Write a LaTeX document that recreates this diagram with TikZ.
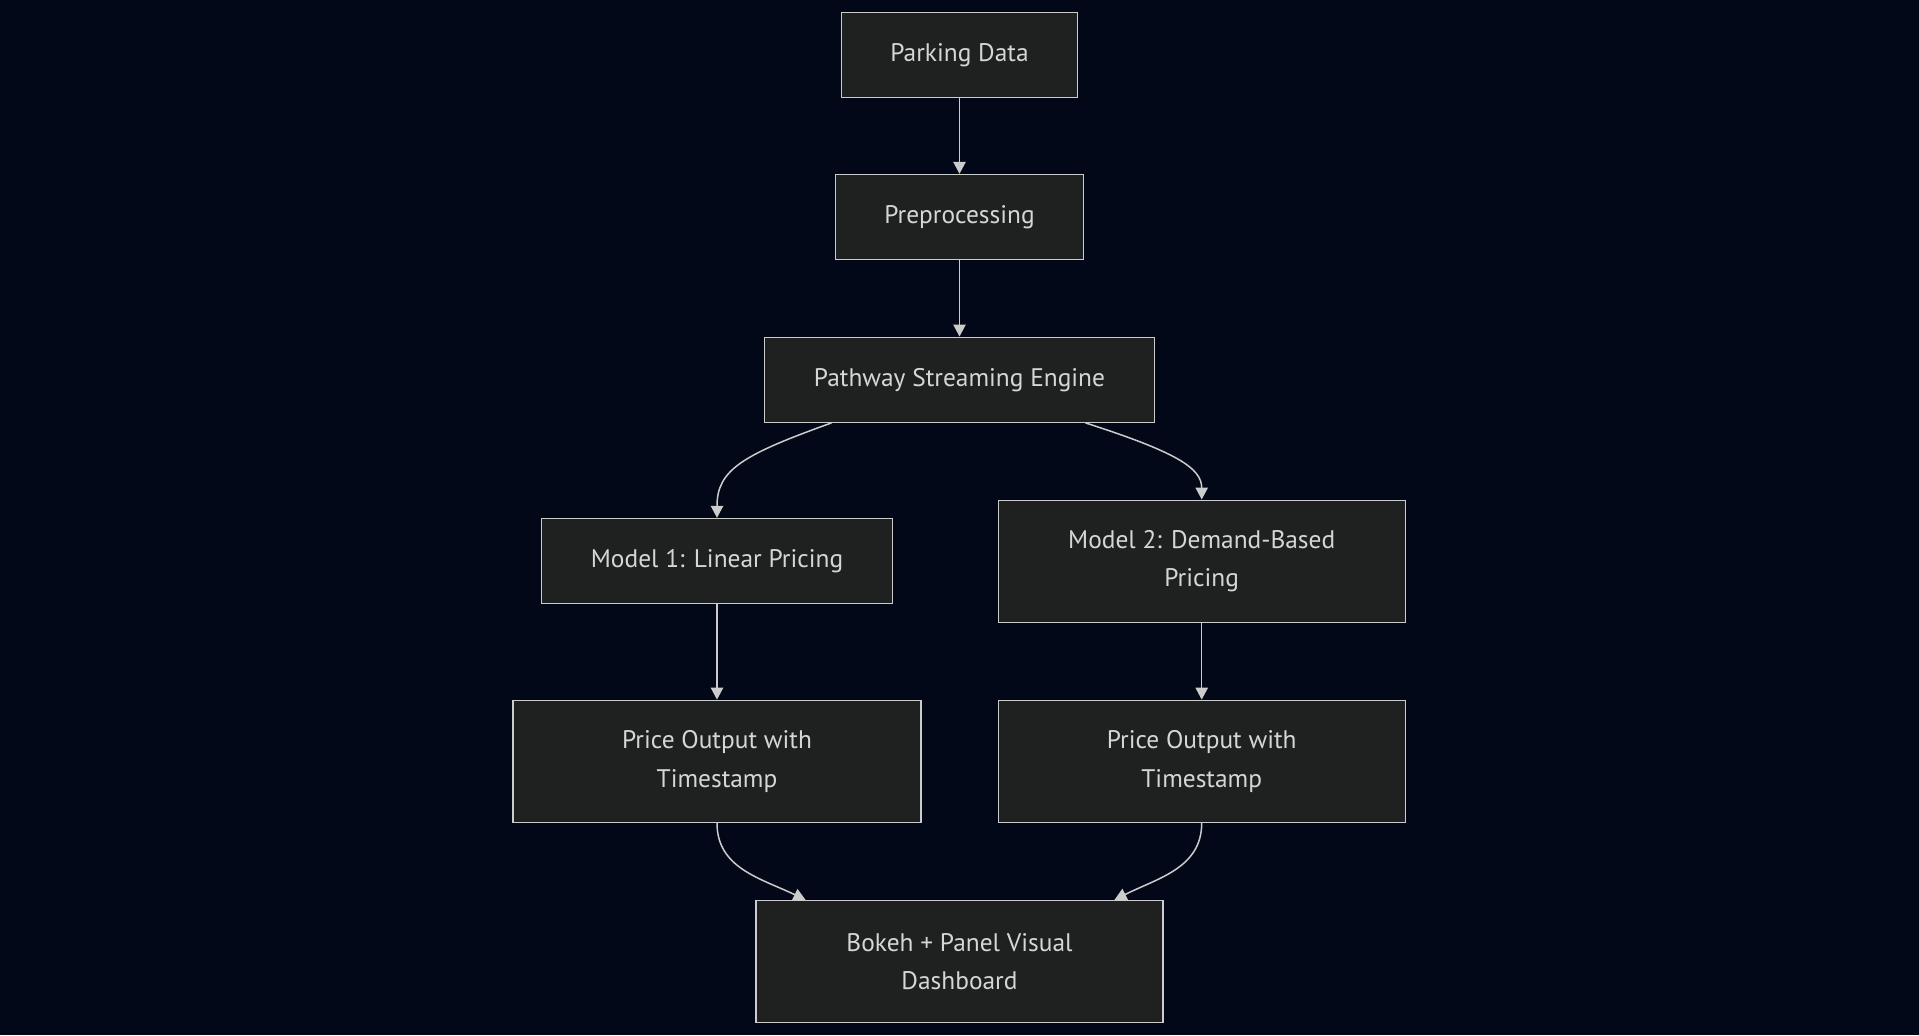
\documentclass[tikz,border=0pt]{standalone}
\usepackage{fontspec}
\setmainfont{PT Sans}
\usetikzlibrary{arrows.meta}
\definecolor{bgnavy}{HTML}{020817}
\definecolor{boxfill}{HTML}{1F2020}
\definecolor{boxline}{HTML}{CCCCCC}
\definecolor{txtgray}{HTML}{D6D6D6}
\begin{document}
\begin{tikzpicture}[x=0.5pt, y=-0.5pt,
  stage/.style={draw=boxline, fill=boxfill, line width=0.7pt, text=txtgray,
    inner sep=0pt, align=center, minimum height=42.5pt,
    font=\fontsize{12.7}{19.2}\selectfont},
  tall/.style={minimum height=61pt},
  flow/.style={draw=boxline, line width=0.75pt,
    -{Triangle[length=6pt, width=6.2pt]}}]
  \fill[bgnavy] (0,0) rectangle (1919,1035);
  \useasboundingbox (0,0) rectangle (1919,1035);
  % Pipeline stages
  \node[stage, minimum width=118pt] (parking) at (959.5,54.7) {Parking Data};
  \node[stage, minimum width=124pt] (prep) at (959.5,217) {Preprocessing};
  \node[stage, minimum width=195pt] (engine) at (959.5,379.7) {Pathway Streaming Engine};
  \node[stage, minimum width=175.5pt] (linear) at (717,561) {Model 1: Linear Pricing};
  \node[stage, tall, minimum width=203.5pt] (demand) at (1201.7,561.2) {Model 2: Demand-Based\\Pricing};
  \node[stage, tall, minimum width=204pt] (outA) at (717,761.3) {Price Output with\\Timestamp};
  \node[stage, tall, minimum width=203.5pt] (outB) at (1201.7,761.3) {Price Output with\\Timestamp};
  \node[stage, tall, minimum width=203.5pt] (dash) at (959.5,961.5) {Bokeh + Panel Visual\\Dashboard};
  % Straight links
  \draw[flow] (parking) -- (prep);
  \draw[flow] (prep) -- (engine);
  \draw[flow] (linear) -- (outA);
  \draw[flow] (demand) -- (outB);
  % Branches out of the engine
  \draw[flow] ([xshift=-64pt]engine.south) .. controls (742,455) and (717,470) .. (linear.north);
  \draw[flow] ([xshift=63pt]engine.south) .. controls (1176,452) and (1201.7,468) .. (demand.north);
  % Joining into the dashboard
  \draw[flow] (outA.south) .. controls (717,868) and (760,878) .. ([xshift=-77pt]dash.north);
  \draw[flow] (outB.south) .. controls (1201.7,868) and (1158,878) .. ([xshift=77.5pt]dash.north);
\end{tikzpicture}
\end{document}
